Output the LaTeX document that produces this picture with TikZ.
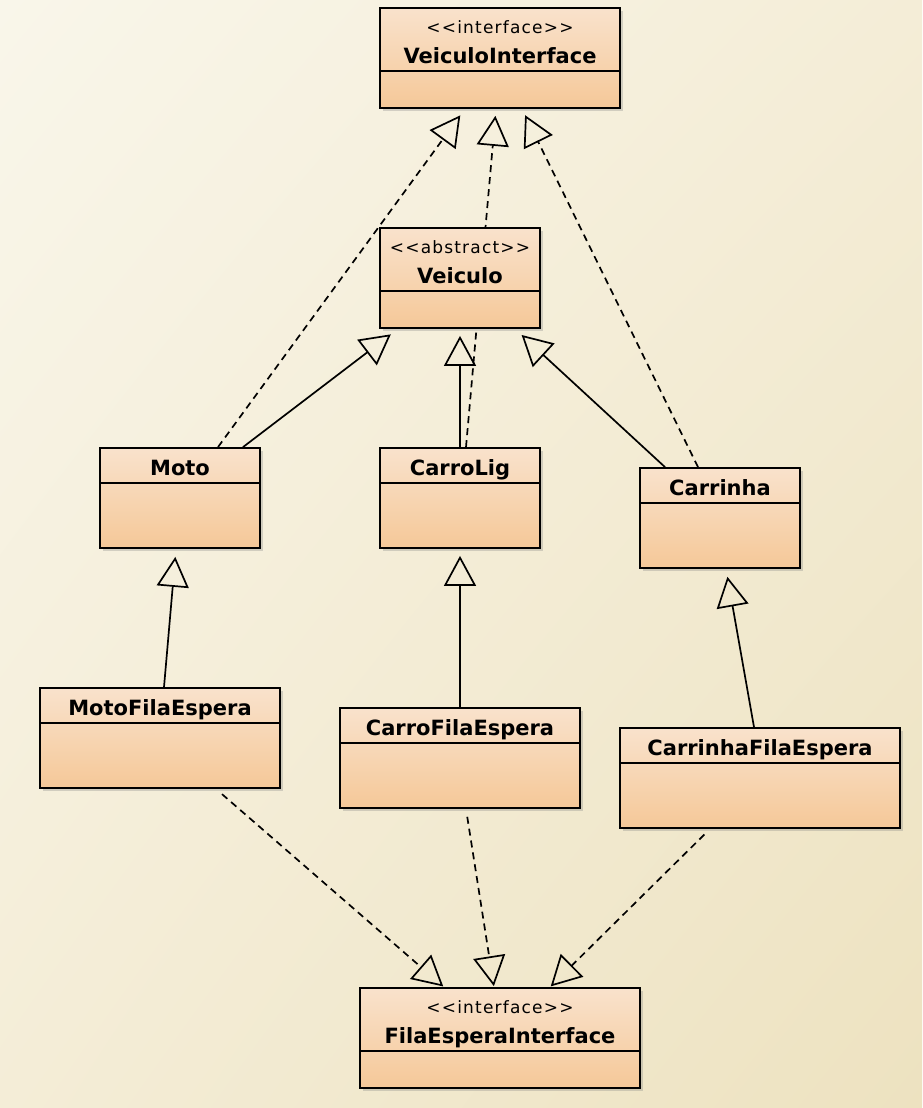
\documentclass[tikz,border=0pt]{standalone}
\usepackage{fontspec}
\newfontfamily\umlfont{DejaVu Sans}
\newfontfamily\umlesteo{DejaVu Sans}[LetterSpace=7]
\usetikzlibrary{arrows.meta, shadows, shadings}
\definecolor{fundoA}{RGB}{249,246,234}
\definecolor{fundoM}{RGB}{244,237,215}
\definecolor{fundoB}{RGB}{237,226,192}
\definecolor{caixaA}{RGB}{249,226,204}
\definecolor{caixaB}{RGB}{245,200,152}

\begin{document}
\begin{tikzpicture}[
    x=1pt,
    y=-1pt,
    klasse/.style={
      draw,
      line width=1.8pt,
      rectangle,
      inner sep=0,
      minimum height=100pt,
      top color=caixaA,
      bottom color=caixaB,
      drop shadow={shadow xshift=3pt, shadow yshift=-3pt, opacity=0.3, fill=black!50}
    },
    titulo/.style={font=\umlfont\fontsize{21}{25}\selectfont\bfseries, anchor=base},
    estereo/.style={font=\umlesteo\fontsize{17}{20}\selectfont, anchor=base},
    heranca/.style={line width=1.7pt, -{Triangle[open, length=30pt, width=32pt]}},
    realiza/.style={heranca, dash pattern=on 7pt off 5pt}]

   \shade[upper left=fundoA, upper right=fundoM, lower left=fundoM, lower right=fundoB]
     (0,0) rectangle (922,1108);

   \path
     node(vint)         at (500,  58) [klasse, minimum width=240pt] {}
     node(moto)         at (180, 498) [klasse, minimum width=160pt] {}
     node(carrolig)     at (460, 498) [klasse, minimum width=160pt] {}
     node(carrinha)     at (720, 518) [klasse, minimum width=160pt] {}
     node(motofila)     at (160, 738) [klasse, minimum width=240pt] {}
     node(carrofila)    at (460, 758) [klasse, minimum width=240pt] {}
     node(carrinhafila) at (760, 778) [klasse, minimum width=280pt] {}
     node(filaint)      at (500,1038) [klasse, minimum width=280pt] {};

   % CarroLig passa por tras de Veiculo
   \draw[realiza, shorten >=7pt] ([xshift=6pt]carrolig.north) -- ([xshift=-4pt]vint.south);

   \node(veic) at (460, 278) [klasse, minimum width=160pt] {};

   \foreach \n/\h in {vint/64, veic/64, filaint/64, moto/36, carrolig/36,
                      carrinha/36, motofila/36, carrofila/36, carrinhafila/36}
     \draw[line width=1.8pt] ([yshift=-\h pt]\n.north west) -- ([yshift=-\h pt]\n.north east);

   \node[estereo] (vint-s) at ([yshift=-26pt]vint.north) {<<interface>>};
   \node[titulo]  (vint-t) at ([yshift=-56pt]vint.north) {VeiculoInterface};
   \node[estereo] (veic-s) at ([yshift=-26pt]veic.north) {<<abstract>>};
   \node[titulo]  (veic-t) at ([yshift=-56pt]veic.north) {Veiculo};
   \node[estereo] (filaint-s) at ([yshift=-26pt]filaint.north) {<<interface>>};
   \node[titulo]  (filaint-t) at ([yshift=-56pt]filaint.north) {FilaEsperaInterface};

   \foreach \n/\t in {moto/Moto, carrolig/CarroLig, carrinha/Carrinha,
                      motofila/MotoFilaEspera, carrofila/CarroFilaEspera,
                      carrinhafila/CarrinhaFilaEspera}
     \node[titulo] (\n-t) at ([yshift=-28pt]\n.north) {\t};

   % realizacao
   \draw[realiza, shorten >=8pt] ([xshift=38pt]moto.north) -- ([xshift=-35pt]vint.south);
   \draw[realiza, shorten >=7pt] ([xshift=-22pt]carrinha.north) -- ([xshift=22pt]vint.south);
   \draw[realiza, shorten <=8pt, shorten >=1pt] ([xshift=56pt]motofila.south) -- ([xshift=-56pt]filaint.north);
   \draw[realiza, shorten <=8pt, shorten >=1pt] ([xshift=6pt]carrofila.south) -- ([xshift=-6pt]filaint.north);
   \draw[realiza, shorten <=8pt, shorten >=1pt] ([xshift=-50pt]carrinhafila.south) -- ([xshift=50pt]filaint.north);

   % heranca
   \draw[heranca, shorten >=9pt] ([xshift=63pt]moto.north) -- ([xshift=-62pt]veic.south);
   \draw[heranca, shorten >=7pt] (carrolig.north) -- (veic.south);
   \draw[heranca, shorten >=9pt] ([xshift=-55pt]carrinha.north) -- ([xshift=55pt]veic.south);
   \draw[heranca, shorten >=8pt] ([xshift=4pt]motofila.north) -- ([xshift=-4pt]moto.south);
   \draw[heranca, shorten >=7pt] (carrofila.north) -- (carrolig.south);
   \draw[heranca, shorten >=8pt] ([xshift=-6pt]carrinhafila.north) -- ([xshift=6pt]carrinha.south);
\end{tikzpicture}
\end{document}
